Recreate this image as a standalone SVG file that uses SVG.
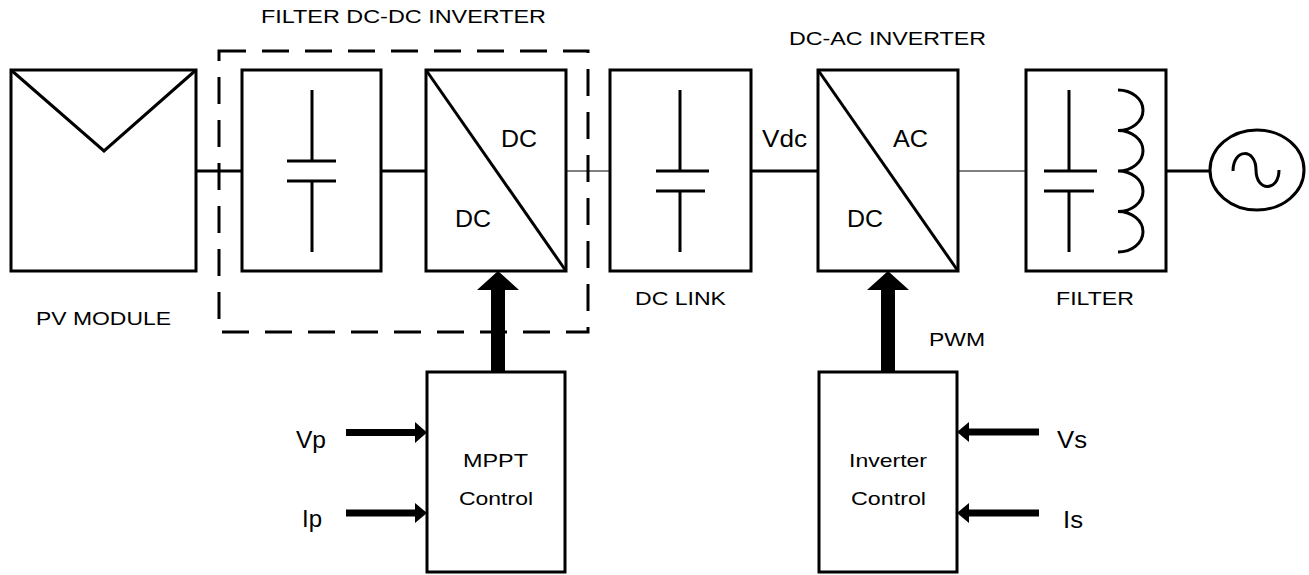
<svg xmlns="http://www.w3.org/2000/svg" width="1309" height="575" viewBox="0 0 1309 575">
<style>
.box{fill:none;stroke:#000;stroke-width:3;stroke-linejoin:miter}
.ln{fill:none;stroke:#000;stroke-width:3}
.thin{fill:none;stroke:#555;stroke-width:1.5}
.arr{fill:#000;stroke:none}
.dash{fill:none;stroke:#000;stroke-width:3;stroke-dasharray:27 16}
text{font-family:"Liberation Sans",Arial,sans-serif;fill:#000}
.lbl{font-size:19px}
.big{font-size:23px}
</style>
<rect width="1309" height="575" fill="#fff"/>
<g id="connectors">
<line class="ln" x1="196" y1="171" x2="242" y2="171"/>
<line class="ln" x1="381" y1="171" x2="426" y2="171"/>
<line class="thin" x1="566" y1="171" x2="610" y2="171"/>
<line class="ln" x1="751" y1="171" x2="818" y2="171"/>
<line class="thin" x1="958" y1="171" x2="1026" y2="171"/>
<line class="ln" x1="1166" y1="171" x2="1210" y2="171"/>
<polygon class="arr" points="491,372 491,290 477,290 498,271 519,290 505,290 505,372"/>
<polygon class="arr" points="881,372 881,290 867,290 888,271 909,290 895,290 895,372"/>
<polygon class="arr" points="346,429 415,429 415,422 427,432.5 415,443 415,436 346,436"/>
<polygon class="arr" points="346,509.5 415,509.5 415,503 427,513 415,523 415,516.5 346,516.5"/>
<polygon class="arr" points="1039,428.5 969,428.5 969,422 957,432 969,442 969,435.5 1039,435.5"/>
<polygon class="arr" points="1039,509.5 969,509.5 969,503 957,513 969,523 969,516.5 1039,516.5"/>
</g>
<g id="dcdc-group">
<rect class="dash" x="219" y="51" width="369" height="281"/>
<text class="lbl" x="261" y="23" textLength="285" lengthAdjust="spacingAndGlyphs">FILTER DC-DC INVERTER</text>
</g>
<g id="pv-module">
<rect class="box" x="11" y="70" width="185" height="201"/>
<polyline class="ln" points="11,70 104,151 196,70"/>
<text class="lbl" x="36" y="325" textLength="135" lengthAdjust="spacingAndGlyphs">PV MODULE</text>
</g>
<g id="input-filter">
<rect class="box" x="242" y="70" width="139" height="201"/>
<path class="ln" d="M312,90V161M287,161H336M287,181H336M312,181V252"/>
</g>
<g id="dcdc-converter">
<rect class="box" x="426" y="70" width="140" height="201"/>
<line class="ln" x1="426" y1="70" x2="566" y2="271"/>
<text class="big" x="501" y="147" textLength="36" lengthAdjust="spacingAndGlyphs">DC</text>
<text class="big" x="455" y="227" textLength="36" lengthAdjust="spacingAndGlyphs">DC</text>
</g>
<g id="dc-link">
<rect class="box" x="610" y="70" width="141" height="201"/>
<path class="ln" d="M680,90V171M656,171H709M656,191H705M680,191V252"/>
<text class="lbl" x="635" y="305" textLength="91" lengthAdjust="spacingAndGlyphs">DC LINK</text>
</g>
<text class="big" x="762" y="147" textLength="45" lengthAdjust="spacingAndGlyphs">Vdc</text>
<g id="dcac-inverter">
<rect class="box" x="818" y="70" width="140" height="201"/>
<line class="ln" x1="818" y1="70" x2="958" y2="271"/>
<text class="lbl" x="789" y="45" textLength="197" lengthAdjust="spacingAndGlyphs">DC-AC INVERTER</text>
<text class="big" x="893" y="147" textLength="35" lengthAdjust="spacingAndGlyphs">AC</text>
<text class="big" x="847" y="227" textLength="36" lengthAdjust="spacingAndGlyphs">DC</text>
</g>
<g id="output-filter">
<rect class="box" x="1026" y="70" width="140" height="201"/>
<path class="ln" d="M1069,90V171M1044,171H1097M1044,191H1094M1069,191V252"/>
<path class="ln" d="M1118,90A25,20.25 0 0 1 1118,130.5A25,20.25 0 0 1 1118,171A25,20.25 0 0 1 1118,211.5A25,20.25 0 0 1 1118,252"/>
<text class="lbl" x="1056" y="305" textLength="78" lengthAdjust="spacingAndGlyphs">FILTER</text>
</g>
<g id="grid">
<ellipse class="ln" cx="1257" cy="170" rx="47" ry="40"/>
<path class="ln" d="M1233,171C1233,148 1256,148 1256,170C1256,192 1279,192 1279,170"/>
</g>
<g id="mppt-control">
<rect class="box" x="427" y="372" width="138" height="200"/>
<text class="lbl" x="463" y="467" textLength="65" lengthAdjust="spacingAndGlyphs">MPPT</text>
<text class="lbl" x="459" y="505" textLength="74" lengthAdjust="spacingAndGlyphs">Control</text>
<text class="big" x="296" y="448" textLength="30" lengthAdjust="spacingAndGlyphs">Vp</text>
<text class="big" x="302" y="527" textLength="20" lengthAdjust="spacingAndGlyphs">Ip</text>
</g>
<g id="inverter-control">
<rect class="box" x="819" y="372" width="138" height="200"/>
<text class="lbl" x="849" y="467" textLength="78" lengthAdjust="spacingAndGlyphs">Inverter</text>
<text class="lbl" x="851" y="505" textLength="75" lengthAdjust="spacingAndGlyphs">Control</text>
<text class="lbl" x="929" y="346" textLength="56" lengthAdjust="spacingAndGlyphs">PWM</text>
<text class="big" x="1057" y="448" textLength="30" lengthAdjust="spacingAndGlyphs">Vs</text>
<text class="big" x="1063" y="528" textLength="20" lengthAdjust="spacingAndGlyphs">Is</text>
</g>
</svg>
